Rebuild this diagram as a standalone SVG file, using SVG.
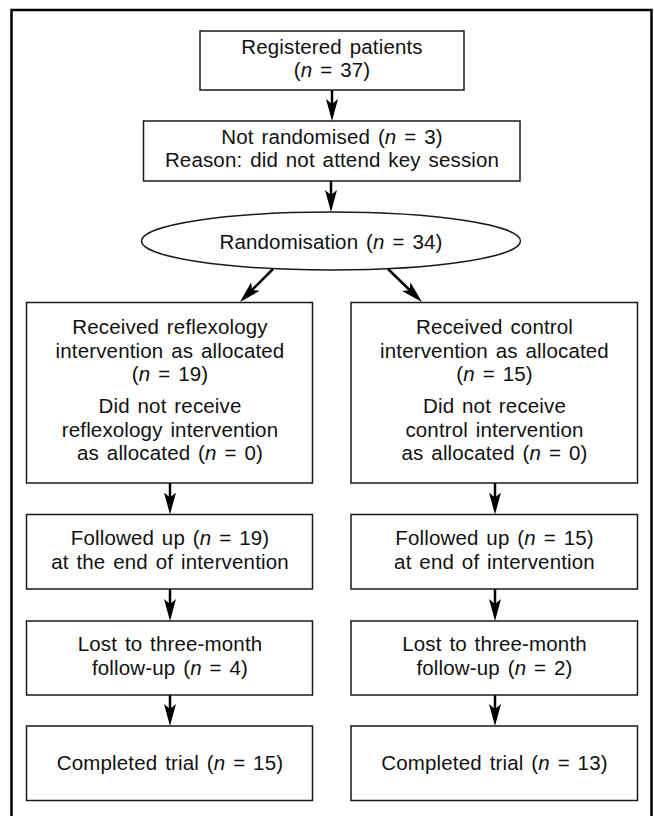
<svg xmlns="http://www.w3.org/2000/svg" width="654" height="816" viewBox="0 0 654 816">
<style>
.box{fill:#fff;stroke:#1a1a1a;stroke-width:1.5}
.t{font-family:"Liberation Sans",Arial,Helvetica,sans-serif;font-size:20.5px;letter-spacing:0.15px;word-spacing:2px;text-anchor:middle;fill:#111}
.i{font-style:italic}
.c{stroke:#000;stroke-width:2.5;fill:none}
</style>
<defs>
<marker id="ah" markerUnits="userSpaceOnUse" markerWidth="24" markerHeight="14" viewBox="0 0 24 14" refX="12" refY="7" orient="auto">
<path d="M0,1 L22,7 L0,13 L5,7 Z" fill="#000"/>
</marker>
</defs>
<path d="M11.5,830 V10 H651.5 V830" fill="none" stroke="#000" stroke-width="2.5"/>
<g id="connectors">
<line class="c" x1="332" y1="90" x2="332" y2="111" marker-end="url(#ah)"/>
<line class="c" x1="331" y1="181" x2="331" y2="202" marker-end="url(#ah)"/>
<line class="c" x1="273" y1="269" x2="247" y2="295" marker-end="url(#ah)"/>
<line class="c" x1="388" y1="269" x2="414.8" y2="295" marker-end="url(#ah)"/>
<line class="c" x1="170" y1="483" x2="170" y2="504.5" marker-end="url(#ah)"/>
<line class="c" x1="170" y1="589" x2="170" y2="611" marker-end="url(#ah)"/>
<line class="c" x1="170" y1="695" x2="170" y2="716" marker-end="url(#ah)"/>
<line class="c" x1="495" y1="483" x2="495" y2="504.5" marker-end="url(#ah)"/>
<line class="c" x1="495" y1="589" x2="495" y2="611" marker-end="url(#ah)"/>
<line class="c" x1="495" y1="695" x2="495" y2="716" marker-end="url(#ah)"/>
</g>
<g id="registered">
<rect class="box" x="200" y="31" width="264" height="59"/>
<text class="t" x="332" y="54">Registered patients</text>
<text class="t" x="332" y="77">(<tspan class="i">n</tspan> = 37)</text>
</g>
<g id="not-randomised">
<rect class="box" x="143.5" y="121" width="376.5" height="60"/>
<text class="t" x="332" y="144">Not randomised (<tspan class="i">n</tspan> = 3)</text>
<text class="t" x="332" y="167">Reason: did not attend key session</text>
</g>
<g id="randomisation">
<ellipse class="box" cx="331" cy="241" rx="189.5" ry="29"/>
<text class="t" x="331" y="249">Randomisation (<tspan class="i">n</tspan> = 34)</text>
</g>
<g id="received-reflexology">
<rect class="box" x="26.5" y="302.5" width="286" height="180.5"/>
<text class="t" x="170" y="334">Received reflexology</text>
<text class="t" x="170" y="357.5">intervention as allocated</text>
<text class="t" x="170" y="381">(<tspan class="i">n</tspan> = 19)</text>
<text class="t" x="170" y="413">Did not receive</text>
<text class="t" x="170" y="436.5">reflexology intervention</text>
<text class="t" x="170" y="460">as allocated (<tspan class="i">n</tspan> = 0)</text>
</g>
<g id="received-control">
<rect class="box" x="351" y="302.5" width="286.5" height="180.5"/>
<text class="t" x="494.5" y="334">Received control</text>
<text class="t" x="494.5" y="357.5">intervention as allocated</text>
<text class="t" x="494.5" y="381">(<tspan class="i">n</tspan> = 15)</text>
<text class="t" x="494.5" y="413">Did not receive</text>
<text class="t" x="494.5" y="436.5">control intervention</text>
<text class="t" x="494.5" y="460">as allocated (<tspan class="i">n</tspan> = 0)</text>
</g>
<g id="followed-reflexology">
<rect class="box" x="26.5" y="514.5" width="286" height="74.5"/>
<text class="t" x="170" y="545">Followed up (<tspan class="i">n</tspan> = 19)</text>
<text class="t" x="170" y="568.5">at the end of intervention</text>
</g>
<g id="followed-control">
<rect class="box" x="351" y="514.5" width="286.5" height="74.5"/>
<text class="t" x="494.5" y="545">Followed up (<tspan class="i">n</tspan> = 15)</text>
<text class="t" x="494.5" y="568.5">at end of intervention</text>
</g>
<g id="lost-reflexology">
<rect class="box" x="26.5" y="621" width="286" height="74"/>
<text class="t" x="170" y="651">Lost to three-month</text>
<text class="t" x="170" y="675">follow-up (<tspan class="i">n</tspan> = 4)</text>
</g>
<g id="lost-control">
<rect class="box" x="351" y="621" width="286.5" height="74"/>
<text class="t" x="494.5" y="651">Lost to three-month</text>
<text class="t" x="494.5" y="675">follow-up (<tspan class="i">n</tspan> = 2)</text>
</g>
<g id="completed-reflexology">
<rect class="box" x="26.5" y="726" width="286" height="74.5"/>
<text class="t" x="170" y="769.5">Completed trial (<tspan class="i">n</tspan> = 15)</text>
</g>
<g id="completed-control">
<rect class="box" x="351" y="726" width="286.5" height="74.5"/>
<text class="t" x="494.5" y="769.5">Completed trial (<tspan class="i">n</tspan> = 13)</text>
</g>
</svg>
